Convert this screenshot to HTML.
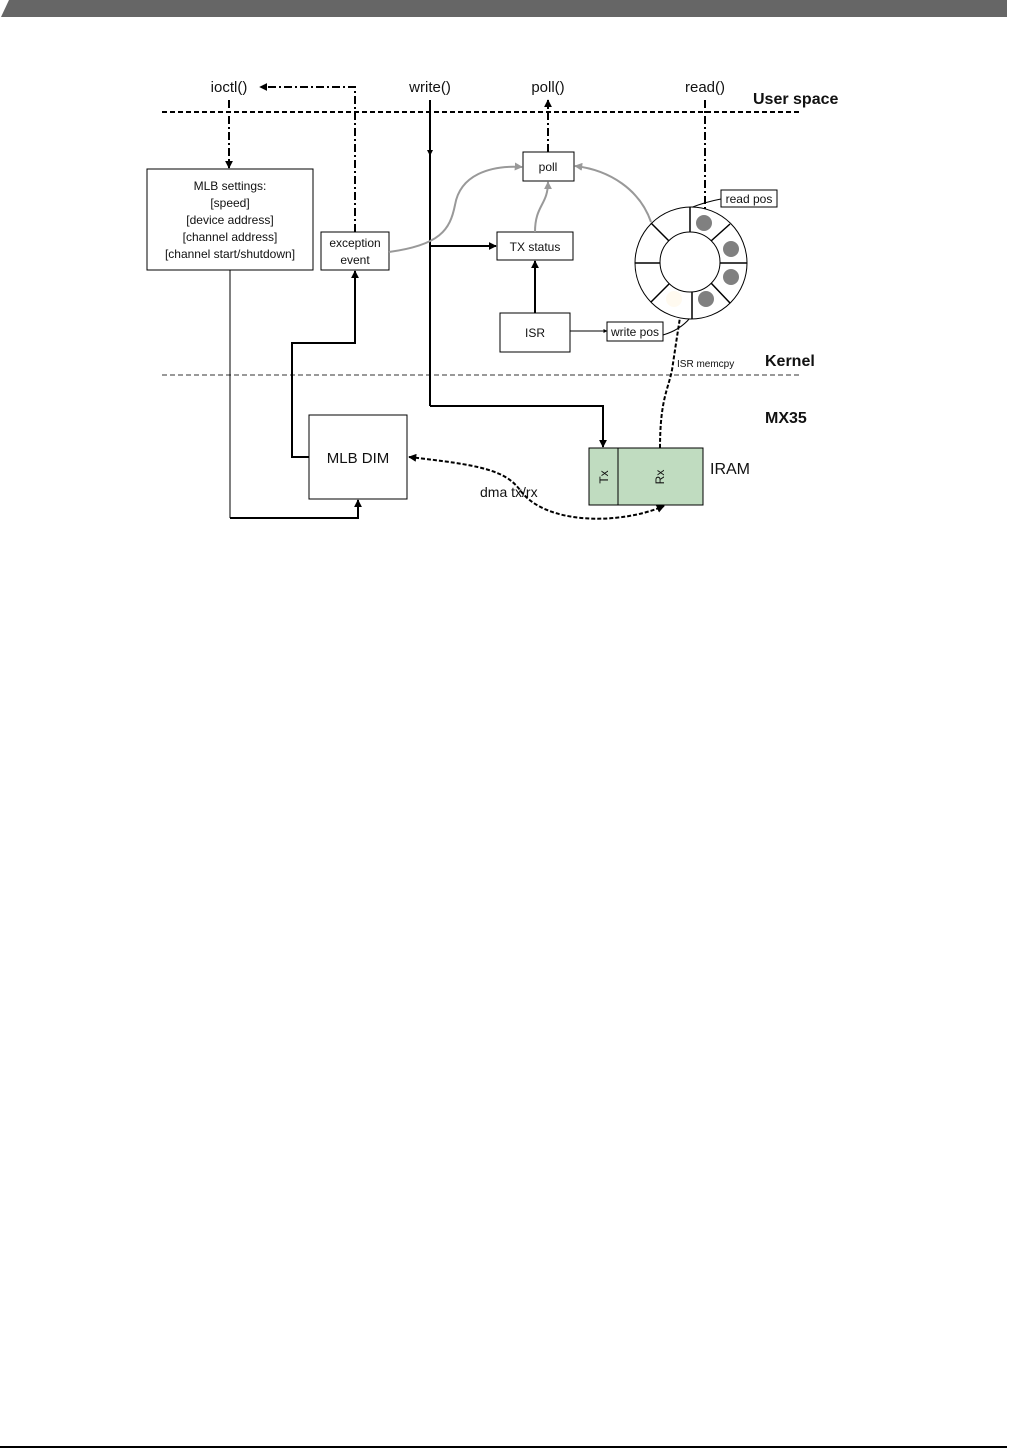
<!DOCTYPE html>
<html><head><meta charset="utf-8"><style>
html,body{margin:0;padding:0;background:#fff}
svg{display:block}
text{font-family:"Liberation Sans",sans-serif;fill:#111}
</style></head><body>
<svg width="1009" height="1449" viewBox="0 0 1009 1449" xmlns="http://www.w3.org/2000/svg">
<defs>
<marker id="a" viewBox="0 0 10 10" refX="9" refY="5" markerWidth="4" markerHeight="4" orient="auto-start-reverse"><path d="M0,0L10,5L0,10z" fill="#000"/></marker>
<marker id="g" viewBox="0 0 10 10" refX="9" refY="5" markerWidth="4" markerHeight="4" orient="auto"><path d="M0,0L10,5L0,10z" fill="#999"/></marker>
</defs>
<polygon points="9,0 1007,0 1007,17 1,17" fill="#666"/>
<line x1="0" y1="1447" x2="1007" y2="1447" stroke="#000" stroke-width="2"/>

<text x="229" y="92" font-size="15" text-anchor="middle">ioctl()</text>
<text x="430" y="92" font-size="15" text-anchor="middle">write()</text>
<text x="548" y="92" font-size="15" text-anchor="middle">poll()</text>
<text x="705" y="92" font-size="15" text-anchor="middle">read()</text>
<text x="753" y="104" font-size="16" font-weight="bold">User space</text>
<text x="765" y="366" font-size="16" font-weight="bold">Kernel</text>
<text x="765" y="423" font-size="16" font-weight="bold">MX35</text>

<line x1="162" y1="112" x2="800" y2="112" stroke="#000" stroke-width="2" stroke-dasharray="5,3"/>
<line x1="162" y1="375" x2="800" y2="375" stroke="#333" stroke-width="1" stroke-dasharray="5,3"/>

<!-- dash-dot lines -->
<g stroke="#000" stroke-width="2" stroke-dasharray="8,3,2,3" fill="none">
<polyline points="355,232 355,87 260,87" marker-end="url(#a)"/>
<line x1="229" y1="100" x2="229" y2="168" marker-end="url(#a)"/>
<line x1="548" y1="152" x2="548" y2="100" marker-end="url(#a)"/>
<line x1="705" y1="100" x2="705" y2="215"/>
</g>

<!-- boxes -->
<g fill="#fff" stroke="#000" stroke-width="1">
<rect x="147" y="169" width="166" height="101"/>
<rect x="321" y="232" width="68" height="38"/>
<rect x="523" y="152" width="51" height="29"/>
<rect x="497" y="232" width="76" height="28"/>
<rect x="500" y="313" width="70" height="39"/>
<rect x="607" y="322" width="56" height="19"/>
<rect x="721" y="190" width="56" height="17"/>
<rect x="309" y="415" width="98" height="84"/>
<rect x="589" y="448" width="114" height="57" fill="#c0dcc0"/>
<line x1="618" y1="448" x2="618" y2="505"/>
</g>
<g font-size="12" text-anchor="middle">
<text x="230" y="190">MLB settings:</text>
<text x="230" y="207">[speed]</text>
<text x="230" y="224">[device address]</text>
<text x="230" y="241">[channel address]</text>
<text x="230" y="258">[channel start/shutdown]</text>
<text x="355" y="247">exception</text>
<text x="355" y="264">event</text>
<text x="548" y="171">poll</text>
<text x="535" y="251">TX status</text>
<text x="535" y="337">ISR</text>
<text x="635" y="336">write pos</text>
<text x="749" y="203">read pos</text>
</g>
<text x="358" y="463" font-size="15" text-anchor="middle">MLB DIM</text>
<text x="710" y="474" font-size="16">IRAM</text>
<text x="480" y="497" font-size="14">dma tx/rx</text>
<text x="677" y="367" font-size="10">ISR memcpy</text>
<text x="608" y="477" font-size="12" transform="rotate(-90 608 477)" text-anchor="middle">Tx</text>
<text x="664" y="477" font-size="12" transform="rotate(-90 664 477)" text-anchor="middle">Rx</text>

<!-- solid connectors -->
<g stroke="#000" fill="none">
<line x1="430" y1="100" x2="430" y2="406" stroke-width="2"/>
<polyline points="430,406 603,406 603,447" stroke-width="2" marker-end="url(#a)"/>
<line x1="430" y1="246" x2="496" y2="246" stroke-width="2" marker-end="url(#a)"/>
<line x1="535" y1="313" x2="535" y2="261" stroke-width="2" marker-end="url(#a)"/>
<line x1="570" y1="331" x2="607" y2="331" stroke-width="1" marker-end="url(#a)"/>
<polyline points="309,457 292,457 292,343 355,343 355,271" stroke-width="2" marker-end="url(#a)"/>
<line x1="230" y1="270" x2="230" y2="518" stroke-width="1"/>
<polyline points="230,518 358,518 358,500" stroke-width="2" marker-end="url(#a)"/>
<path d="M663,335 Q680,330 690,318" stroke-width="1"/>
<path d="M721,199 Q705,202 690,208" stroke-width="1"/>
</g>
<path d="M430,156 l-3,-6 h6z" fill="#000"/>

<!-- gray curves -->
<g stroke="#999" stroke-width="2" fill="none">
<path d="M389,252 C440,245 450,230 455,205 C460,175 490,165 522,167" marker-end="url(#g)"/>
<path d="M535,232 C535,205 548,205 548,182" marker-end="url(#g)"/>
<path d="M651,222 C640,190 610,170 575,166" marker-end="url(#g)"/>
</g>

<!-- dashed curves -->
<g stroke="#000" stroke-width="2" fill="none" stroke-dasharray="4,2">
<path d="M660,448 C660,400 668,390 672,370 C675,350 678,330 681,311" marker-end="url(#a)"/>
<path d="M409,457 C480,465 505,470 520,490 C545,525 620,525 664,506" marker-start="url(#a)" marker-end="url(#a)"/>
</g>

<!-- ring -->
<g stroke="#000" stroke-width="1" fill="#fff">
<circle cx="691" cy="263" r="56"/>
<circle cx="690" cy="262" r="30"/>
</g>
<g stroke="#000" stroke-width="1.5">
<line x1="690" y1="207" x2="690" y2="232"/>
<line x1="692" y1="292" x2="692" y2="319"/>
<line x1="635" y1="263" x2="660" y2="263"/>
<line x1="720" y1="263" x2="747" y2="263"/>
<line x1="651" y1="223" x2="669" y2="241"/>
<line x1="711" y1="283" x2="730" y2="303"/>
<line x1="730" y1="224" x2="711" y2="241"/>
<line x1="651" y1="302" x2="669" y2="284"/>
</g>
<g fill="#808080">
<circle cx="704" cy="223" r="8"/>
<circle cx="731" cy="249" r="8"/>
<circle cx="731" cy="277" r="8"/>
<circle cx="706" cy="299" r="8"/>
</g>
<circle cx="674" cy="299" r="8" fill="#fffaf0"/>
</svg>
</body></html>
